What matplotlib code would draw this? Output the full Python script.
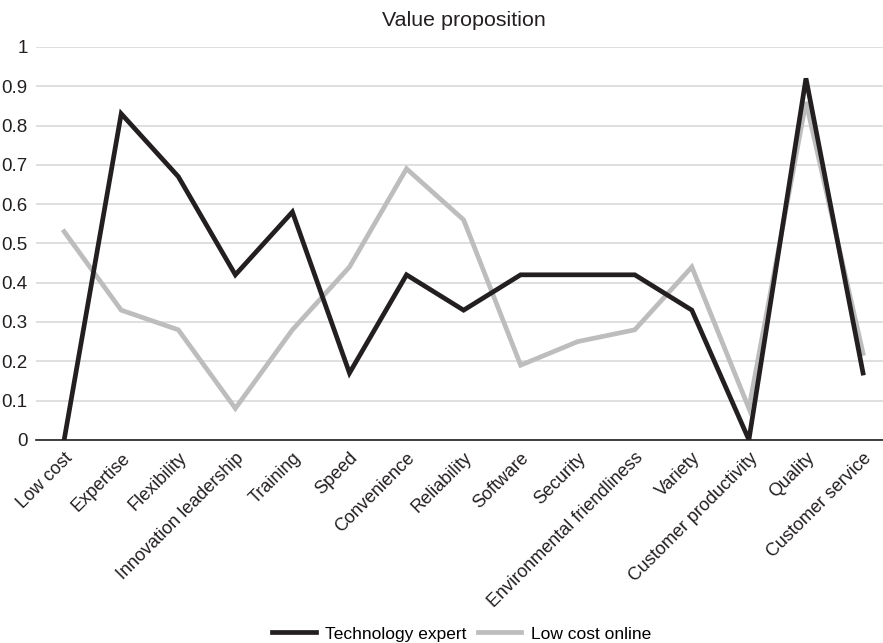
import matplotlib.pyplot as plt

plt.rcParams['font.family'] = ['Liberation Sans', 'DejaVu Sans']

categories = ['Low cost', 'Expertise', 'Flexibility', 'Innovation leadership',
              'Training', 'Speed', 'Convenience', 'Reliability', 'Software',
              'Security', 'Environmental friendliness', 'Variety',
              'Customer productivity', 'Quality', 'Customer service']
tech_expert = [0, 0.83, 0.67, 0.42, 0.58, 0.17, 0.42, 0.33, 0.42, 0.42,
               0.42, 0.33, 0, 0.92, 0.17]
low_cost_online = [0.53, 0.33, 0.28, 0.08, 0.28, 0.44, 0.69, 0.56, 0.19,
                   0.25, 0.28, 0.44, 0.08, 0.86, 0.22]

fig = plt.figure(figsize=(8.83, 6.43), dpi=100)
ax = fig.add_axes([0.041, 0.316, 0.959, 0.611])

x = range(len(categories))
ax.plot(x, tech_expert, color='#231f20', lw=3.4, label='Technology expert',
        zorder=3, solid_joinstyle='miter')
ax.plot(x, low_cost_online, color='#bdbdbd', lw=3.4, label='Low cost online',
        zorder=2, solid_joinstyle='miter')

ax.set_ylim(0, 1)
ax.set_xlim(-0.49, 14.35)
ax.set_yticks([i / 10 for i in range(11)])
ax.set_yticklabels(['0'] + [f'{i / 10:g}' for i in range(1, 10)] + ['1'],
                   fontsize=13.5, color='#231f20')
ax.set_xticks(list(x))
ax.set_xticklabels(categories, rotation=45, ha='right',
                   rotation_mode='anchor', fontsize=13, color='#231f20')
ax.tick_params(axis='x', length=0, pad=7)
ax.tick_params(axis='y', length=0, pad=6)

ax.grid(axis='y', color='#d9d9d9', lw=1.2)
ax.set_axisbelow(True)
for side in ['left', 'right', 'top']:
    ax.spines[side].set_visible(False)
ax.spines['bottom'].set_color('#231f20')
ax.spines['bottom'].set_linewidth(1.2)
ax.spines['bottom'].set_zorder(1)

fig.text(0.525, 0.968, 'Value proposition', ha='center', va='center',
         fontsize=15.4, color='#231f20')

fig.legend(loc='center', bbox_to_anchor=(0.523, 0.014), ncol=2,
           frameon=False, fontsize=12.5, handlelength=2.5, handletextpad=0.55,
           columnspacing=0.65, borderpad=0)

fig.savefig('out.png', dpi=100)
